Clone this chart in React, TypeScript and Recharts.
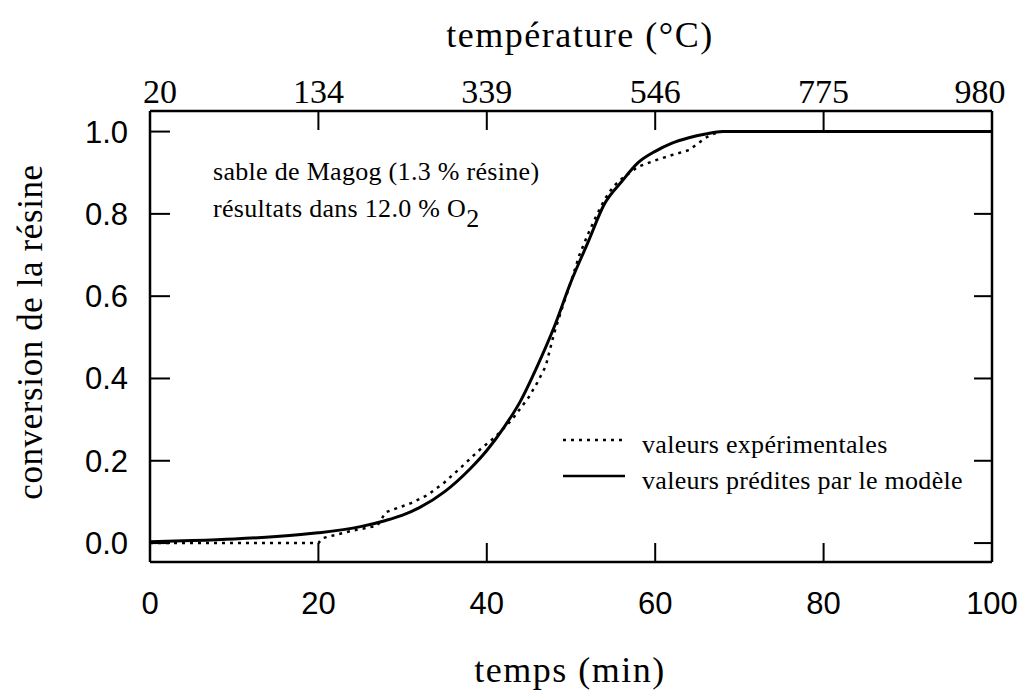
import React from "react";
import { LineChart, Line, XAxis, YAxis } from "recharts";

// temps (min) / conversion — courbe du modèle
const timeModel = [0, 5, 10, 15, 20, 25, 28, 30, 32, 35, 38, 40, 42, 44, 46, 48, 50, 52, 54, 56, 58, 60, 62, 64, 66, 68, 70, 100];
const convModel = [0.003, 0.006, 0.01, 0.016, 0.025, 0.04, 0.055, 0.068, 0.086, 0.125, 0.18, 0.225, 0.28, 0.345, 0.43, 0.525, 0.635, 0.73, 0.825, 0.878, 0.925, 0.952, 0.972, 0.985, 0.994, 1.0, 1.0, 1.0];

// valeurs expérimentales
const timeExp = [0, 10, 20, 20.5, 24, 27, 28, 31, 33, 35, 37, 39, 41, 43, 45, 46, 47, 48, 49, 50, 51, 52, 53, 54, 55, 56, 57, 58, 60, 62, 64, 65, 66, 67, 68, 100];
const convExp = [0.0, 0.0, 0.0, 0.012, 0.03, 0.042, 0.075, 0.097, 0.117, 0.148, 0.185, 0.224, 0.258, 0.3, 0.355, 0.39, 0.43, 0.51, 0.575, 0.635, 0.7, 0.75, 0.795, 0.835, 0.866, 0.885, 0.9, 0.915, 0.93, 0.943, 0.955, 0.97, 0.985, 0.995, 1.0, 1.0];

const timeTicks = [0, 20, 40, 60, 80, 100];
const tempLabels = ["20", "134", "339", "546", "775", "980"];
const convTicks = [0, 0.2, 0.4, 0.6, 0.8, 1.0];

const modelData = timeModel.map((t, i) => ({ t, c: convModel[i] }));
const expData = timeExp.map((t, i) => ({ t, c: convExp[i] }));

const SANS = "'Liberation Sans', Arial, sans-serif";
const SERIF = "'Liberation Serif', 'Times New Roman', serif";

const BottomTick = (p: any) => (
  <g>
    <line x1={p.x} y1={p.y} x2={p.x} y2={p.y - 19} stroke="#000" strokeWidth={2} />
    <text x={p.x} y={p.y + 52} textAnchor="middle" fontSize={31} fontFamily={SANS} fill="#000">
      {p.payload.value}
    </text>
  </g>
);

const TopTick = (p: any) => {
  const i = timeTicks.indexOf(p.payload.value);
  // the end labels sit a little inside the frame in the original
  const dx = i === 0 ? 10 : i === timeTicks.length - 1 ? -12 : 0;
  return (
    <g>
      <line x1={p.x} y1={p.y} x2={p.x} y2={p.y + 19} stroke="#000" strokeWidth={2} />
      <text x={p.x + dx} y={p.y - 8} textAnchor="middle" fontSize={34} fontFamily={SERIF} fill="#000">
        {tempLabels[i]}
      </text>
    </g>
  );
};

const LeftTick = (p: any) => (
  <g>
    <line x1={p.x} y1={p.y} x2={p.x + 20} y2={p.y} stroke="#000" strokeWidth={2} />
    <text x={p.x - 22} y={p.y + 11} textAnchor="end" fontSize={31} fontFamily={SANS} fill="#000">
      {Number(p.payload.value).toFixed(1)}
    </text>
  </g>
);

const RightTick = (p: any) => (
  <line x1={p.x} y1={p.y} x2={p.x - 18} y2={p.y} stroke="#000" strokeWidth={2} />
);

export default function App() {
  return (
    <div style={{ position: "relative", width: 1014, height: 684, background: "#fff" }}>
      <LineChart width={1014} height={676} margin={{ top: 63, right: 10, bottom: 82, left: 102 }}>
        <XAxis
          xAxisId="b"
          type="number"
          dataKey="t"
          domain={[0, 100]}
          ticks={timeTicks}
          allowDataOverflow
          height={40}
          tickSize={0}
          tickMargin={0}
          axisLine={{ stroke: "#000", strokeWidth: 2.5 }}
          tick={(p: any) => <BottomTick {...p} />}
        />
        <XAxis
          xAxisId="t"
          orientation="top"
          type="number"
          dataKey="t"
          domain={[0, 100]}
          ticks={timeTicks}
          allowDataOverflow
          height={40}
          tickSize={0}
          tickMargin={0}
          axisLine={{ stroke: "#000", strokeWidth: 2.5 }}
          tick={(p: any) => <TopTick {...p} />}
        />
        <YAxis
          yAxisId="l"
          type="number"
          domain={[-0.046, 1.05]}
          ticks={convTicks}
          allowDataOverflow
          width={40}
          tickSize={0}
          tickMargin={0}
          axisLine={{ stroke: "#000", strokeWidth: 2.5 }}
          tick={(p: any) => <LeftTick {...p} />}
        />
        <YAxis
          yAxisId="r"
          orientation="right"
          type="number"
          domain={[-0.046, 1.05]}
          ticks={convTicks}
          allowDataOverflow
          width={20}
          tickSize={0}
          tickMargin={0}
          axisLine={{ stroke: "#000", strokeWidth: 2.5 }}
          tick={(p: any) => <RightTick {...p} />}
        />
        <Line
          xAxisId="t"
          yAxisId="r"
          data={expData}
          dataKey="c"
          name="valeurs expérimentales"
          type="linear"
          stroke="#000"
          strokeWidth={2.5}
          strokeDasharray="3 5"
          dot={false}
          isAnimationActive={false}
        />
        <Line
          xAxisId="b"
          yAxisId="l"
          data={modelData}
          dataKey="c"
          name="valeurs prédites par le modèle"
          type="monotone"
          stroke="#000"
          strokeWidth={3}
          dot={false}
          isAnimationActive={false}
        />
      </LineChart>
      <svg
        width={1014}
        height={684}
        style={{ position: "absolute", left: 0, top: 0, pointerEvents: "none" }}
      >
        <text x={572} y={39} textAnchor="middle" fontSize={36} letterSpacing={1.5} fontFamily={SERIF} fill="#000">
          température (°C)
        </text>
        <text x={562} y={674} textAnchor="middle" fontSize={36} letterSpacing={1.5} fontFamily={SERIF} fill="#000">
          temps (min)
        </text>
        <text
          transform="translate(34,324) rotate(-90)"
          textAnchor="middle"
          fontSize={35}
          letterSpacing={0.6}
          fontFamily={SERIF}
          fill="#000"
        >
          conversion de la résine
        </text>
        <text x={205} y={172} fontSize={26} letterSpacing={0.3} fontFamily={SERIF} fill="#000">
          sable de Magog (1.3 % résine)
        </text>
        <text x={205} y={209} fontSize={26} letterSpacing={0.3} fontFamily={SERIF} fill="#000">
          résultats dans 12.0 % O
          <tspan dy={10}>2</tspan>
        </text>
        {/* légende */}
        <line x1={555} y1={432} x2={617} y2={432} stroke="#000" strokeWidth={2.5} strokeDasharray="3 5" />
        <text x={634} y={445} fontSize={26} letterSpacing={0.3} fontFamily={SERIF} fill="#000">
          valeurs expérimentales
        </text>
        <line x1={555} y1={468} x2={617} y2={468} stroke="#000" strokeWidth={2.5} />
        <text x={634} y={481} fontSize={26} letterSpacing={0.3} fontFamily={SERIF} fill="#000">
          valeurs prédites par le modèle
        </text>
      </svg>
    </div>
  );
}
